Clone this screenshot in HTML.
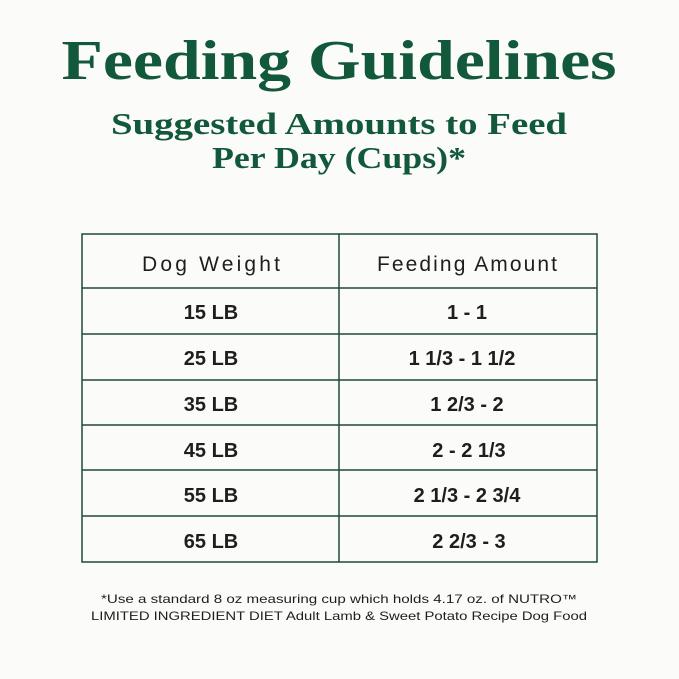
<!DOCTYPE html>
<html><head><meta charset="utf-8"><style>
html,body{margin:0;padding:0;background:#fbfbfa;}
svg{display:block}
</style></head><body>
<svg width="679" height="679" xmlns="http://www.w3.org/2000/svg">
<rect width="679" height="679" fill="#fbfbfa"/>
<g font-family="Liberation Serif, serif" font-weight="bold" fill="#12583a" text-anchor="middle">
<text x="339" y="79" font-size="56" textLength="555" lengthAdjust="spacingAndGlyphs">Feeding Guidelines</text>
<text x="339" y="134" font-size="31" textLength="456" lengthAdjust="spacingAndGlyphs">Suggested Amounts to Feed</text>
<text x="339" y="168" font-size="31" textLength="254" lengthAdjust="spacingAndGlyphs">Per Day (Cups)*</text>
</g>
<g stroke="#1f4a36" stroke-width="1.5" fill="none">
<rect x="82" y="234" width="515" height="328"/>
<line x1="339" y1="234" x2="339" y2="562"/>
<line x1="82" y1="288" x2="597" y2="288"/>
<line x1="82" y1="334" x2="597" y2="334"/>
<line x1="82" y1="380" x2="597" y2="380"/>
<line x1="82" y1="425" x2="597" y2="425"/>
<line x1="82" y1="470" x2="597" y2="470"/>
<line x1="82" y1="516" x2="597" y2="516"/>
</g>
<g font-family="Liberation Sans, sans-serif" fill="#1e1e1e" text-anchor="middle" font-size="20">
<text x="211" y="271" font-size="21" textLength="138" lengthAdjust="spacing">Dog  Weight</text>
<text x="467" y="271" font-size="21" textLength="180" lengthAdjust="spacing">Feeding Amount</text>
<text x="211" y="319" font-weight="bold">15 LB</text>
<text x="211" y="365" font-weight="bold">25 LB</text>
<text x="211" y="411" font-weight="bold">35 LB</text>
<text x="211" y="457" font-weight="bold">45 LB</text>
<text x="211" y="502" font-weight="bold">55 LB</text>
<text x="211" y="548" font-weight="bold">65 LB</text>
<text x="467" y="319" font-weight="bold">1 - 1</text>
<text x="462" y="365" font-weight="bold">1 1/3 - 1 1/2</text>
<text x="467" y="411" font-weight="bold">1 2/3 - 2</text>
<text x="469" y="457" font-weight="bold">2 - 2 1/3</text>
<text x="467" y="502" font-weight="bold">2 1/3 - 2 3/4</text>
<text x="469" y="548" font-weight="bold">2 2/3 - 3</text>
</g>
<g font-family="Liberation Sans, sans-serif" fill="#1e1e1e" text-anchor="middle" font-size="12">
<text x="339" y="603" textLength="476" lengthAdjust="spacingAndGlyphs">*Use a standard 8 oz measuring cup which holds 4.17 oz. of NUTRO™</text>
<text x="339" y="620" textLength="496" lengthAdjust="spacingAndGlyphs">LIMITED INGREDIENT DIET Adult Lamb &amp; Sweet Potato Recipe Dog Food</text>
</g>
</svg>
</body></html>
